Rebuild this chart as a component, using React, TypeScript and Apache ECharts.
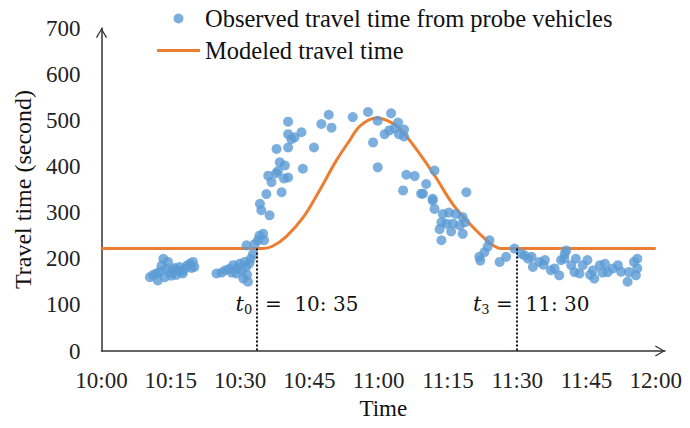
import React, { useEffect, useRef } from "react";
import * as echarts from "echarts";

// Minutes after 10:00
const xTickLabels = ["10:00", "10:15", "10:30", "10:45", "11:00", "11:15", "11:30", "11:45", "12:00"];
const yTicks = [0, 100, 200, 300, 400, 500, 600, 700];

const observedMinute = [
  10.5, 11.2, 11.9, 12.2, 12.6, 13.0, 13.4, 13.7, 14.0, 14.4, 14.8, 15.1, 15.5, 15.9, 16.2, 16.6, 16.9, 17.3, 17.6, 18.0, 18.5, 19.1, 19.5, 19.8, 20.1,
  24.9, 26.0, 26.8, 27.7, 28.2, 28.5, 29.2, 29.5, 29.9, 30.3, 30.7, 31.0, 31.3, 31.7, 31.5, 32.0, 32.3, 32.8, 31.4, 33.2, 33.9, 34.2, 35.0, 35.2,
  34.3, 34.6, 36.4, 35.7, 36.8, 36.1, 37.8, 38.6, 38.2, 39.7, 40.4, 39.5, 39.0, 37.9, 40.4, 41.1, 40.4, 41.8, 43.3, 40.4, 43.6, 46.0, 47.6, 49.2, 49.8, 54.4,
  57.7, 59.8, 62.7, 64.2, 61.3, 62.3, 63.4, 64.4, 65.5, 65.5, 58.8, 59.8, 66.0, 67.8, 72.1, 65.3, 70.3, 69.6, 71.7,
  69.2, 79.0, 71.7, 72.1, 73.9, 75.2, 76.7, 78.2, 73.6, 74.7, 76.1, 77.6, 78.7, 73.2, 75.7, 78.2, 73.6, 84.0, 83.6, 82.9, 81.8, 82.0, 86.2, 87.6,
  89.4, 90.9, 91.6, 92.4, 93.1, 93.4, 94.8, 95.7, 96.0, 97.3, 98.1, 99.1, 99.5, 100.3, 100.6, 100.2, 101.7, 102.4, 102.7, 104.2, 105.2, 106.7, 106.4,
  107.9, 109.0, 109.6, 110.7, 111.8, 113.9, 114.2, 115.3, 116.0, 116.0, 115.7, 103.5, 105.8, 108.5, 112.5,
];
const observedSeconds = [
  160, 165, 168, 153, 172, 185, 200, 160, 178, 193, 170, 163, 175, 180, 165, 174, 182, 172, 168, 178, 185, 189, 180, 193, 182,
  168, 170, 175, 178, 170, 186, 168, 180, 189, 175, 157, 193, 182, 150, 165, 190, 200, 210, 229, 232, 240, 250, 254, 240,
  319, 305, 294, 340, 366, 380, 385, 409, 390, 402, 376, 374, 344, 438, 441, 459, 470, 463, 474, 497, 395, 441, 492, 512, 484, 507,
  518, 499, 515, 495, 470, 478, 482, 470, 465, 480, 452, 398, 382, 379, 391, 348, 362, 341, 330,
  341, 344, 326, 308, 297, 300, 297, 290, 279, 276, 276, 272, 279, 264, 259, 254, 240, 240, 226, 214, 204, 196, 193, 204,
  222, 211, 207, 200, 204, 182, 193, 187, 197, 175, 179, 164, 197, 211, 218, 200, 186, 171, 200, 186, 197, 157, 175,
  186, 189, 171, 179, 186, 150, 171, 193, 179, 200, 164, 168, 165, 170, 172,
];

const modeledMinute = [0, 30, 35, 37, 40, 43.7, 47.2, 50.8, 53.7, 56, 59.5, 63, 65.3, 68.9, 72.4, 76.0, 79.7, 83.3, 86.5, 90, 120];
const modeledSeconds = [222, 222, 222, 227, 248, 290, 348, 412, 456, 488, 505, 494, 474, 427, 376, 319, 276, 241, 222, 222, 222];

const markerMinute = [33.6, 90];
const markerTop = 222;
const markerLabelMinute = [28.9, 80.3];
const markerLabelSeconds = 102.5;
const markerNames = ["0", "3"];
const markerTimes = ["10: 35", "11: 30"];
const markerEquals = ["  =  ", " =  "];

const SERIF = "'Times New Roman', 'Liberation Serif', serif";
const ARROW = "path://M6,0 L12,10 L10.8,10.8 L6,2.4 L1.2,10.8 L0,10 Z";

export default function App() {
  const ref = useRef<HTMLDivElement>(null);
  useEffect(() => {
    if (!ref.current) return;
    const chart = echarts.init(ref.current, undefined, { renderer: "svg" });
    const observed = observedMinute.map((m, i) => [m, observedSeconds[i]]);
    const modeled = modeledMinute.map((m, i) => [m, modeledSeconds[i]]);
    const axisLine = {
      show: true,
      symbol: ["none", ARROW],
      symbolSize: [13, 10],
      symbolOffset: [0, -5],
      lineStyle: { color: "#333", width: 1.5 },
    };
    chart.setOption({
      animation: false,
      backgroundColor: "#fff",
      grid: { left: 101.5, right: 25, top: 28, bottom: 77 },
      legend: {
        orient: "vertical",
        left: 157,
        top: 6,
        padding: 0,
        itemGap: 7,
        itemWidth: 43,
        itemHeight: 10,
        textStyle: { fontFamily: SERIF, fontSize: 24.5, lineHeight: 25, color: "#111" },
        data: [
          { name: "Observed travel time from probe vehicles", icon: "circle" },
          { name: "Modeled travel time", icon: "path://M0,0 L43,0 L43,3 L0,3 Z" },
        ],
      },
      xAxis: {
        type: "value",
        min: 0,
        max: 122,
        interval: 15,
        splitLine: { show: false },
        axisTick: { show: false },
        axisLine,
        axisLabel: {
          margin: 18,
          fontFamily: SERIF,
          fontSize: 23,
          color: "#222",
          showMaxLabel: true,
          formatter: (v: number) => {
            const i = Math.round(v / 15);
            return Math.abs(v - i * 15) < 1e-6 && i < xTickLabels.length ? xTickLabels[i] : "";
          },
        },
        name: "Time",
        nameLocation: "middle",
        nameGap: 46,
        nameTextStyle: { fontFamily: SERIF, fontSize: 23, color: "#111" },
      },
      yAxis: {
        type: "value",
        min: yTicks[0],
        max: yTicks[yTicks.length - 1],
        interval: 100,
        splitLine: { show: false },
        axisTick: { show: false },
        axisLine,
        axisLabel: { margin: 21, fontFamily: SERIF, fontSize: 23, color: "#222" },
        name: "Travel time (second)",
        nameLocation: "middle",
        nameRotate: 90,
        nameGap: 66,
        nameTextStyle: { fontFamily: SERIF, fontSize: 24, color: "#111" },
      },
      series: [
        {
          name: "Observed travel time from probe vehicles",
          type: "scatter",
          symbol: "circle",
          symbolSize: 10,
          itemStyle: { color: "#5B9BD5" },
          data: observed,
          z: 3,
        },
        {
          name: "Modeled travel time",
          type: "line",
          symbol: "none",
          smooth: 0.35,
          lineStyle: { color: "#ED7D31", width: 3 },
          itemStyle: { color: "#ED7D31" },
          data: modeled,
          z: 2,
          markLine: {
            silent: true,
            symbol: ["none", "none"],
            label: { show: false },
            lineStyle: { type: "dotted", color: "#111", width: 2 },
            data: markerMinute.map((m) => [{ coord: [m, markerTop] }, { coord: [m, 0] }]),
          },
          markPoint: {
            silent: true,
            symbol: "circle",
            symbolSize: 1,
            itemStyle: { color: "rgba(0,0,0,0)" },
            label: {
              show: true,
              position: "right",
              distance: 0,
              color: "#111",
              rich: {
                t: { fontFamily: "'DejaVu Serif', serif", fontStyle: "italic", fontSize: 21, lineHeight: 24, color: "#111" },
                s: { fontFamily: "'DejaVu Serif', serif", fontSize: 13, lineHeight: 24, verticalAlign: "bottom", color: "#111" },
                n: { fontFamily: "'DejaVu Serif', serif", fontSize: 20, lineHeight: 24, color: "#111" },
              },
            },
            data: markerLabelMinute.map((m, i) => ({
              coord: [m, markerLabelSeconds],
              label: { formatter: `{t|t}{s|${markerNames[i]}}{n|${markerEquals[i]}${markerTimes[i]}}` },
            })),
          },
        },
      ],
    });
    return () => chart.dispose();
  }, []);
  return (
    <div
      ref={ref}
      style={{ position: "fixed", left: 0, top: 0, width: 690, height: 428, background: "#fff" }}
    />
  );
}
